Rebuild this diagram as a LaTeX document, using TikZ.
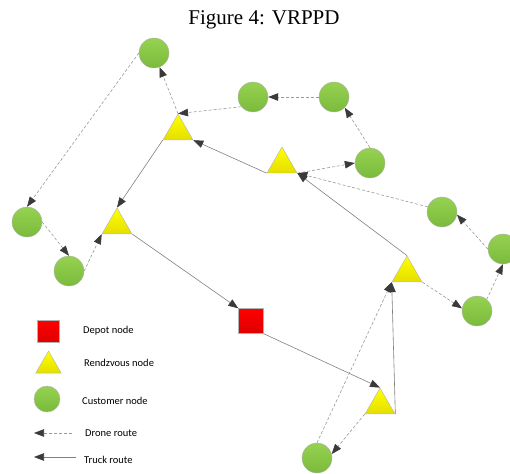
\documentclass[tikz,border=0pt]{standalone}
\usepackage{fontspec}
\setmainfont{Liberation Serif}
\newfontfamily\legendfont{Carlito}
\usetikzlibrary{shapes.geometric,arrows.meta}
\definecolor{custtop}{RGB}{150,210,82}
\definecolor{custbot}{RGB}{122,186,58}
\definecolor{rendtop}{RGB}{255,255,0}
\definecolor{rendbot}{RGB}{228,222,0}
\definecolor{depottop}{RGB}{255,0,0}
\definecolor{depotbot}{RGB}{222,0,0}
\definecolor{routegray}{RGB}{128,128,128}
\definecolor{tipgray}{RGB}{58,58,58}
\begin{document}
\begin{tikzpicture}[x=1pt, y=-1pt,
    customer/.style={circle, draw=gray!60, top color=custtop, bottom color=custbot, minimum size=30pt, inner sep=0pt},
    rendezvous/.style={regular polygon, regular polygon sides=3, draw=gray!60, top color=rendtop, bottom color=rendbot, minimum size=34.6pt, inner sep=0pt},
    depotbox/.style={rectangle, draw=gray!60, top color=depottop, bottom color=depotbot, minimum size=25pt, inner sep=0pt},
    truck/.style={draw=routegray, line width=0.6pt, -{Triangle[length=10pt, width=7.5pt, color=tipgray]}},
    drone/.style={truck, draw=routegray!80, dash pattern=on 3pt off 2pt},
    legendtext/.style={anchor=west, inner sep=0pt, font=\legendfont\fontsize{10.5}{12}\selectfont}]
    \useasboundingbox (0,0) rectangle (510,473);
    \node (title) at (264,20) {\fontsize{21}{25}\selectfont Figure 4: VRPPD};
    % nodes
    \foreach \name/\x/\y in {c1/154/53, c2/253/97, c3/334/97, c4/370/163, c5/442/212,
                             c6/503/249, c7/477/311, c8/27/222, c9/69/271, c10/317/458}{
        \node[customer] (\name) at (\x,\y) {};
    }
    \foreach \name/\x/\y in {r1/178/131.3, r2/282/164.3, r3/117/225.3, r4/407/273.3, r5/380/405.3}{
        \node[rendezvous] (\name) at (\x,\y) {};
    }
    \node[depotbox] (depot) at (251,321) {};
    % truck route
    \draw[truck] (depot.south east) -- (r5.corner 1);
    \draw[truck] (r5.corner 3) -- (r4.corner 2);
    \draw[truck] (r4.corner 1) -- (r2.corner 3);
    \draw[truck] (r2.corner 2) -- (r1.corner 3);
    \draw[truck] (r1.corner 2) -- (r3.corner 1);
    \draw[truck] (r3.corner 3) -- (depot.north west);
    % drone routes
    \draw[drone] (r1.corner 1) -- (c1);
    \draw[drone] (c1.west) -- (c8.north);
    \draw[drone] (c8.east) -- (c9.north);
    \draw[drone] (c9.east) -- (r3.corner 2);
    \draw[drone] (c3.west) -- (c2.east);
    \draw[drone] (c2.220) -- (r1.corner 1);
    \draw[drone] (c4.north) -- (c3.south east);
    \draw[drone] (r2.corner 3) -- (c4.west);
    \draw[drone] (c5.160) -- (r2.corner 3);
    \draw[drone] (c6.west) -- (c5.-10);
    \draw[drone] (c7.50) -- (c6.south);
    \draw[drone] (r4.corner 3) -- (c7.170);
    \draw[drone] (r5.corner 2) -- (c10.15);
    \draw[drone] (c10.north) -- (r4.corner 2);
    % legend
    \node[depotbox, minimum size=22pt] (legdepot) at (48,331) {};
    \node[rendezvous, minimum size=29.4pt] (legrend) at (48.5,365.7) {};
    \node[customer, minimum size=26pt] (legcust) at (47,399) {};
    \coordinate (dronestart) at (72,433);
    \coordinate (droneend) at (34,433);
    \coordinate (truckstart) at (76,457);
    \coordinate (truckend) at (34,457);
    \draw[drone] (dronestart) -- (droneend);
    \draw[truck] (truckstart) -- (truckend);
    \node[legendtext] (depotlabel) at (83,331) {Depot node};
    \node[legendtext] (rendlabel) at (84,363) {Rendzvous node};
    \node[legendtext] (custlabel) at (82,401) {Customer node};
    \node[legendtext] (dronelabel) at (85,433) {Drone route};
    \node[legendtext] (trucklabel) at (84,460) {Truck route};
\end{tikzpicture}
\end{document}
